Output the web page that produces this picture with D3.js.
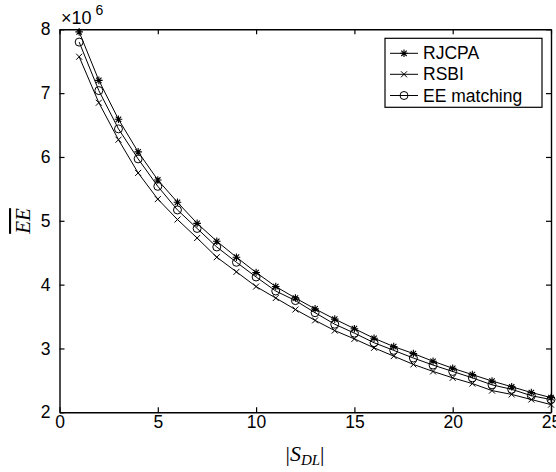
<!DOCTYPE html>
<html><head><meta charset="utf-8">
<script src="https://cdn.jsdelivr.net/npm/d3@7"></script>
<style>body{margin:0;background:#fff}svg{display:block}</style>
</head><body>
<script>
const xValues = [1,2,3,4,5,6,7,8,9,10,11,12,13,14,15,16,17,18,19,20,21,22,23,24,25];
const rjcpa = [7.96,7.20,6.59,6.08,5.64,5.29,4.96,4.68,4.43,4.19,3.97,3.79,3.62,3.46,3.31,3.16,3.03,2.92,2.80,2.69,2.59,2.49,2.40,2.31,2.23];
const rsbi  = [7.57,6.85,6.27,5.75,5.34,5.02,4.73,4.43,4.20,3.97,3.79,3.61,3.44,3.28,3.15,3.01,2.88,2.75,2.64,2.54,2.45,2.34,2.28,2.20,2.12];
const eem   = [7.80,7.04,6.44,5.97,5.54,5.17,4.88,4.59,4.35,4.12,3.90,3.75,3.56,3.38,3.24,3.09,2.97,2.85,2.74,2.64,2.54,2.43,2.36,2.26,2.20];
const seriesNames = ["RJCPA","RSBI","EE matching"];
const markers = ["star","x","circle"];
const xTicks = [0,5,10,15,20,25];
const yTicks = [2,3,4,5,6,7,8];

const W=556,H=472;
const L=59.5,R=551,T=29.3,B=412.3;
const svg=d3.select("body").append("svg").attr("width",W).attr("height",H);
const x=d3.scaleLinear().domain([0,25]).range([L,R]);
const y=d3.scaleLinear().domain([2,8]).range([B,T]);
const font="'Liberation Sans', Arial, sans-serif";
const serif="'Liberation Serif','DejaVu Serif',serif";

// axes
const gB=svg.append("g").attr("transform",`translate(0,${B})`).call(d3.axisBottom(x).tickValues(xTicks).tickSizeInner(-5).tickSizeOuter(0).tickPadding(3).tickFormat(d3.format("d")));
const gT=svg.append("g").attr("transform",`translate(0,${T})`).call(d3.axisTop(x).tickValues(xTicks).tickSizeInner(-5).tickSizeOuter(0).tickFormat(""));
const gL=svg.append("g").attr("transform",`translate(${L},0)`).call(d3.axisLeft(y).tickValues(yTicks).tickSizeInner(-5).tickSizeOuter(0).tickPadding(9).tickFormat(d3.format("d")));
const gR=svg.append("g").attr("transform",`translate(${R},0)`).call(d3.axisRight(y).tickValues(yTicks).tickSizeInner(-5).tickSizeOuter(0).tickFormat(""));
[gB,gT,gL,gR].forEach(g=>{
  g.selectAll("path.domain").attr("stroke","#000").attr("stroke-width",1.4);
  g.selectAll(".tick line").attr("stroke","#000").attr("stroke-width",1.2);
  g.selectAll("text").attr("font-family",font).attr("font-size",17.5).attr("fill","#000");
});

// multiplier
const mt=svg.append("text").attr("x",61).attr("y",24).attr("font-family",font).attr("font-size",18).attr("fill","#000");
mt.append("tspan").text("\u00d710");
mt.append("tspan").attr("dy",-9).attr("dx",4).attr("font-size",14).text("6");

// axis labels
const xl=svg.append("text").attr("x",305).attr("y",461).attr("text-anchor","middle")
 .attr("font-family",serif).attr("font-size",22).attr("fill","#000");
xl.append("tspan").text("|");
xl.append("tspan").attr("font-style","italic").text("S");
xl.append("tspan").attr("font-style","italic").attr("font-size",15).attr("dy",4).text("DL");
xl.append("tspan").attr("dy",-4).text("|");

const yl=svg.append("text").attr("transform","translate(30,221) rotate(-90)").attr("text-anchor","middle")
 .attr("font-family",serif).attr("font-size",21).attr("font-style","italic")
 .attr("text-decoration","overline").attr("fill","#000").text("EE");

// marker drawing
function drawMarker(g,type,cx,cy){
  if(type==="circle"){
    g.append("circle").attr("cx",cx).attr("cy",cy).attr("r",4).attr("fill","none").attr("stroke","#000").attr("stroke-width",1);
  } else if(type==="x"){
    const s=3;
    g.append("path").attr("d",`M${cx-s},${cy-s}L${cx+s},${cy+s}M${cx-s},${cy+s}L${cx+s},${cy-s}`).attr("stroke","#000").attr("stroke-width",1);
  } else {
    const s=3.8,d=2.7;
    g.append("path").attr("d",`M${cx-s},${cy}L${cx+s},${cy}M${cx},${cy-s}L${cx},${cy+s}M${cx-d},${cy-d}L${cx+d},${cy+d}M${cx-d},${cy+d}L${cx+d},${cy-d}`).attr("stroke","#000").attr("stroke-width",1.1);
  }
}

const data=[rjcpa,rsbi,eem];
const line=d3.line().x((d,i)=>x(xValues[i])).y(d=>y(d));
const plot=svg.append("g");
data.forEach((vals,k)=>{
  plot.append("path").datum(vals).attr("d",line).attr("fill","none").attr("stroke","#000").attr("stroke-width",1);
  const mg=plot.append("g");
  vals.forEach((v,i)=>drawMarker(mg,markers[k],x(xValues[i]),y(v)));
});

// legend
const lg=svg.append("g");
lg.append("rect").attr("x",385).attr("y",38.3).attr("width",157).attr("height",69).attr("fill","#fff").attr("stroke","#000").attr("stroke-width",1.2);
const rowsY=[53.3,74.3,95.5];
seriesNames.forEach((n,k)=>{
  lg.append("line").attr("x1",390).attr("x2",418).attr("y1",rowsY[k]).attr("y2",rowsY[k]).attr("stroke","#000").attr("stroke-width",1);
  drawMarker(lg,markers[k],404,rowsY[k]);
  lg.append("text").attr("x",423).attr("y",rowsY[k]+6).attr("font-family",font).attr("font-size",17.5).attr("fill","#000").text(n);
});
</script>
</body></html>
